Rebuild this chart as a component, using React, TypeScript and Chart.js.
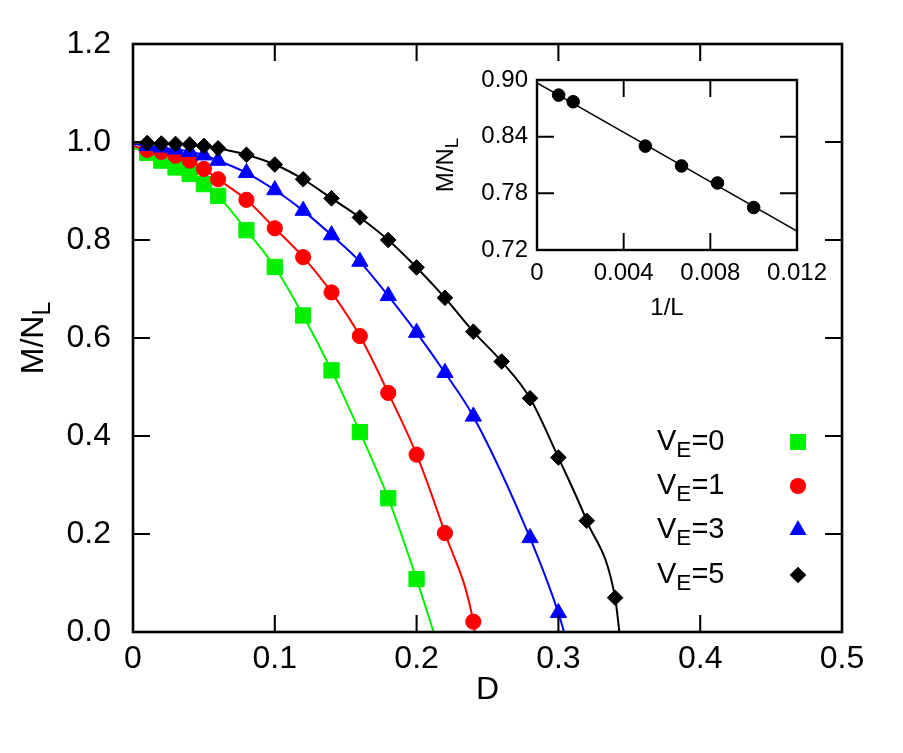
import React, { useEffect, useRef } from 'react';
import { Chart, registerables } from 'chart.js';

Chart.register(...registerables);

const FONT = '"Liberation Sans", Arial, Helvetica, sans-serif';

// ---- Main plot data ----
const seriesLabels = ['0', '1', '3', '5'];
const seriesColors = ['#00f000', '#ff0000', '#0000ff', '#000000'];
const seriesStyles = ['rect', 'circle', 'triangle', 'rectRot'];
const seriesRadius = [10.8, 7.6, 9.4, 7.8];

const dV0 = [0.01, 0.02, 0.03, 0.04, 0.05, 0.06, 0.08, 0.10, 0.12, 0.14, 0.16, 0.18, 0.20];
const mV0 = [0.978, 0.962, 0.948, 0.935, 0.914, 0.890, 0.820, 0.745, 0.646, 0.534, 0.408, 0.273, 0.108];

const dV1 = [0.01, 0.02, 0.03, 0.04, 0.05, 0.06, 0.08, 0.10, 0.12, 0.14, 0.16, 0.18, 0.20, 0.22, 0.24];
const mV1 = [0.984, 0.980, 0.972, 0.962, 0.945, 0.924, 0.882, 0.824, 0.765, 0.693, 0.604, 0.488, 0.362, 0.202, 0.021];

const dV3 = [0.01, 0.02, 0.03, 0.04, 0.05, 0.06, 0.08, 0.10, 0.12, 0.14, 0.16, 0.18, 0.20, 0.22, 0.24, 0.28, 0.30];
const mV3 = [0.992, 0.989, 0.985, 0.980, 0.973, 0.962, 0.937, 0.902, 0.860, 0.810, 0.756, 0.686, 0.611, 0.529, 0.440, 0.192, 0.039];

const dV5 = [0.01, 0.02, 0.03, 0.04, 0.05, 0.06, 0.08, 0.10, 0.12, 0.14, 0.16, 0.18, 0.20, 0.22, 0.24, 0.26, 0.28, 0.30, 0.32, 0.34];
const mV5 = [0.998, 0.997, 0.996, 0.995, 0.992, 0.987, 0.974, 0.954, 0.924, 0.885, 0.846, 0.800, 0.744, 0.682, 0.613, 0.552, 0.477, 0.356, 0.227, 0.070];

// fit curves: value at D = 0 and critical D where M/N_L reaches 0
const fitStartM = [0.988, 0.992, 0.996, 0.999];
const fitEndD = [0.212, 0.241, 0.304, 0.343];

const mainXTicks = { min: 0, max: 0.5, step: 0.1 };
const mainYTicks = { min: 0, max: 1.2, step: 0.2 };

// ---- Inset data ----
const invL = [0.001, 0.00167, 0.005, 0.00667, 0.00833, 0.01];
const insetM = [0.884, 0.877, 0.830, 0.809, 0.791, 0.765];
const insetFitX = [0, 0.012];
const insetFitY = [0.897, 0.740];
const insetXTicks = { min: 0, max: 0.012, step: 0.004 };
const insetYTicks = { min: 0.72, max: 0.90, step: 0.06 };

type Part = { t: string; sub?: boolean };

function drawRich(ctx: CanvasRenderingContext2D, parts: Part[], x: number, y: number, size: number, align: 'left' | 'center') {
  const subSize = size * 0.78;
  const widths = parts.map((p) => {
    ctx.font = `${p.sub ? subSize : size}px ${FONT}`;
    return ctx.measureText(p.t).width;
  });
  const total = widths.reduce((a, b) => a + b, 0);
  let cx = align === 'center' ? x - total / 2 : x;
  ctx.textAlign = 'left';
  ctx.textBaseline = 'middle';
  ctx.fillStyle = '#000';
  parts.forEach((p, i) => {
    ctx.font = `${p.sub ? subSize : size}px ${FONT}`;
    ctx.fillText(p.t, cx, p.sub ? y + size * 0.3 : y);
    cx += widths[i];
  });
}

function drawMarker(ctx: CanvasRenderingContext2D, style: string, x: number, y: number, r: number, color: string) {
  ctx.fillStyle = color;
  ctx.beginPath();
  if (style === 'rect') {
    const s = r * Math.SQRT1_2;
    ctx.rect(x - s, y - s, 2 * s, 2 * s);
  } else if (style === 'circle') {
    ctx.arc(x, y, r, 0, Math.PI * 2);
  } else if (style === 'triangle') {
    for (let k = 0; k < 3; k++) {
      const a = -Math.PI / 2 + (k * 2 * Math.PI) / 3;
      const px = x + r * Math.cos(a);
      const py = y + r * Math.sin(a);
      if (k === 0) ctx.moveTo(px, py);
      else ctx.lineTo(px, py);
    }
    ctx.closePath();
  } else {
    ctx.moveTo(x, y - r);
    ctx.lineTo(x + r, y);
    ctx.lineTo(x, y + r);
    ctx.lineTo(x - r, y);
    ctx.closePath();
  }
  ctx.fill();
}

function framePlugin(tickLen: number, frameW: number, extra: (chart: any) => void) {
  return {
    id: 'frameTicks',
    afterDraw(chart: any) {
      const { ctx, chartArea: a, scales } = chart;
      ctx.save();
      ctx.strokeStyle = '#000';
      ctx.lineWidth = frameW * 0.8;
      ctx.beginPath();
      scales.x.ticks.forEach((t: any) => {
        const px = scales.x.getPixelForValue(t.value);
        if (px <= a.left + 1 || px >= a.right - 1) return;
        ctx.moveTo(px, a.bottom);
        ctx.lineTo(px, a.bottom - tickLen);
        ctx.moveTo(px, a.top);
        ctx.lineTo(px, a.top + tickLen);
      });
      scales.y.ticks.forEach((t: any) => {
        const py = scales.y.getPixelForValue(t.value);
        if (py <= a.top + 1 || py >= a.bottom - 1) return;
        ctx.moveTo(a.left, py);
        ctx.lineTo(a.left + tickLen, py);
        ctx.moveTo(a.right, py);
        ctx.lineTo(a.right - tickLen, py);
      });
      ctx.stroke();
      ctx.lineWidth = frameW;
      ctx.strokeRect(a.left, a.top, a.right - a.left, a.bottom - a.top);
      extra(chart);
      ctx.restore();
    },
  };
}

function fmt(v: number, digits: number) {
  if (Math.abs(v) < 1e-9) return '0';
  return v.toFixed(digits);
}

export default function App() {
  const mainRef = useRef<HTMLCanvasElement>(null);
  const insetRef = useRef<HTMLCanvasElement>(null);

  useEffect(() => {
    const ds: any[] = [];
    const dArr = [dV0, dV1, dV3, dV5];
    const mArr = [mV0, mV1, mV3, mV5];
    dArr.forEach((d, i) => {
      const pts = d.map((x, k) => ({ x, y: mArr[i][k] }));
      ds.push({
        type: 'line',
        label: 'fit' + i,
        data: [{ x: 0, y: fitStartM[i] }, ...pts, { x: fitEndD[i], y: 0 }],
        borderColor: seriesColors[i],
        borderWidth: 2,
        pointRadius: 0,
        fill: false,
        cubicInterpolationMode: 'monotone',
        order: 20 - i * 2,
      });
      ds.push({
        type: 'scatter',
        label: 'V' + seriesLabels[i],
        data: pts,
        backgroundColor: seriesColors[i],
        borderColor: seriesColors[i],
        borderWidth: 1,
        pointStyle: seriesStyles[i],
        pointRadius: seriesRadius[i],
        clip: false,
        order: 19 - i * 2,
      });
    });

    const MAIN_FONT = 32;
    const main = new Chart(mainRef.current!, {
      type: 'scatter',
      data: { datasets: ds },
      options: {
        animation: false,
        responsive: false,
        events: [],
        layout: { padding: { top: 44, right: 61, left: 0, bottom: 0 } },
        plugins: { legend: { display: false }, tooltip: { enabled: false } },
        scales: {
          x: {
            type: 'linear',
            min: mainXTicks.min,
            max: mainXTicks.max,
            ticks: {
              stepSize: mainXTicks.step,
              color: '#000',
              font: { family: FONT, size: MAIN_FONT },
              padding: 8,
              maxRotation: 0,
              callback: (v: any) => fmt(Number(v), 1),
            },
            grid: { display: false, drawTicks: false },
            border: { display: false },
            afterFit: (s: any) => {
              s.height = 121;
            },
          },
          y: {
            type: 'linear',
            min: mainYTicks.min,
            max: mainYTicks.max,
            ticks: {
              stepSize: mainYTicks.step,
              color: '#000',
              font: { family: FONT, size: MAIN_FONT },
              padding: 22,
              callback: (v: any) => Number(v).toFixed(1),
            },
            grid: { display: false, drawTicks: false },
            border: { display: false },
            afterFit: (s: any) => {
              s.width = 133;
            },
          },
        },
      } as any,
      plugins: [
        framePlugin(17, 2.6, (chart: any) => {
          const { ctx, chartArea: a } = chart;
          drawRich(ctx, [{ t: 'D' }], (a.left + a.right) / 2, 690, MAIN_FONT, 'center');
          ctx.save();
          ctx.translate(34, (a.top + a.bottom) / 2);
          ctx.rotate(-Math.PI / 2);
          drawRich(ctx, [{ t: 'M/N' }, { t: 'L', sub: true }], 0, 0, MAIN_FONT, 'center');
          ctx.restore();
          // legend
          const rows = [442, 486, 530, 575];
          seriesLabels.forEach((lab, i) => {
            drawRich(ctx, [{ t: 'V' }, { t: 'E', sub: true }, { t: '=' + lab }], 657, rows[i], 29, 'left');
            drawMarker(ctx, seriesStyles[i], 798, rows[i], seriesRadius[i] + 0.5, seriesColors[i]);
          });
        }),
      ],
    });

    const INSET_FONT = 24;
    const inset = new Chart(insetRef.current!, {
      type: 'scatter',
      data: {
        datasets: [
          {
            type: 'line',
            label: 'fit',
            data: insetFitX.map((x, k) => ({ x, y: insetFitY[k] })),
            borderColor: '#000',
            borderWidth: 1.6,
            pointRadius: 0,
            order: 2,
          },
          {
            type: 'scatter',
            label: 'pts',
            data: invL.map((x, k) => ({ x, y: insetM[k] })),
            backgroundColor: '#000',
            borderColor: '#000',
            pointRadius: 6.3,
            clip: false,
            order: 1,
          },
        ],
      },
      options: {
        animation: false,
        responsive: false,
        events: [],
        layout: { padding: { top: 30, right: 43, left: 0, bottom: 0 } },
        plugins: { legend: { display: false }, tooltip: { enabled: false } },
        scales: {
          x: {
            type: 'linear',
            min: insetXTicks.min,
            max: insetXTicks.max,
            ticks: {
              stepSize: insetXTicks.step,
              color: '#000',
              font: { family: FONT, size: INSET_FONT },
              padding: 9,
              maxRotation: 0,
              callback: (v: any) => fmt(Number(v), 3),
            },
            grid: { display: false, drawTicks: false },
            border: { display: false },
            afterFit: (s: any) => {
              s.height = 90;
            },
          },
          y: {
            type: 'linear',
            min: insetYTicks.min,
            max: insetYTicks.max,
            ticks: {
              stepSize: insetYTicks.step,
              color: '#000',
              font: { family: FONT, size: INSET_FONT },
              padding: 9,
              callback: (v: any) => Number(v).toFixed(2),
            },
            grid: { display: false, drawTicks: false },
            border: { display: false },
            afterFit: (s: any) => {
              s.width = 117;
            },
          },
        },
      } as any,
      plugins: [
        framePlugin(17, 2.4, (chart: any) => {
          const { ctx, chartArea: a } = chart;
          drawRich(ctx, [{ t: '1/L' }], (a.left + a.right) / 2, 258, INSET_FONT, 'center');
          ctx.save();
          ctx.translate(26, (a.top + a.bottom) / 2);
          ctx.rotate(-Math.PI / 2);
          drawRich(ctx, [{ t: 'M/N' }, { t: 'L', sub: true }], 0, 0, INSET_FONT, 'center');
          ctx.restore();
        }),
      ],
    });

    return () => {
      main.destroy();
      inset.destroy();
    };
  }, []);

  return (
    <div style={{ position: 'fixed', left: 0, top: 0, width: 903, height: 753, background: '#fff' }}>
      <canvas ref={mainRef} width={903} height={753} style={{ position: 'absolute', left: 0, top: 0, width: 903, height: 753 }} />
      <canvas ref={insetRef} width={420} height={290} style={{ position: 'absolute', left: 420, top: 50, width: 420, height: 290 }} />
    </div>
  );
}
